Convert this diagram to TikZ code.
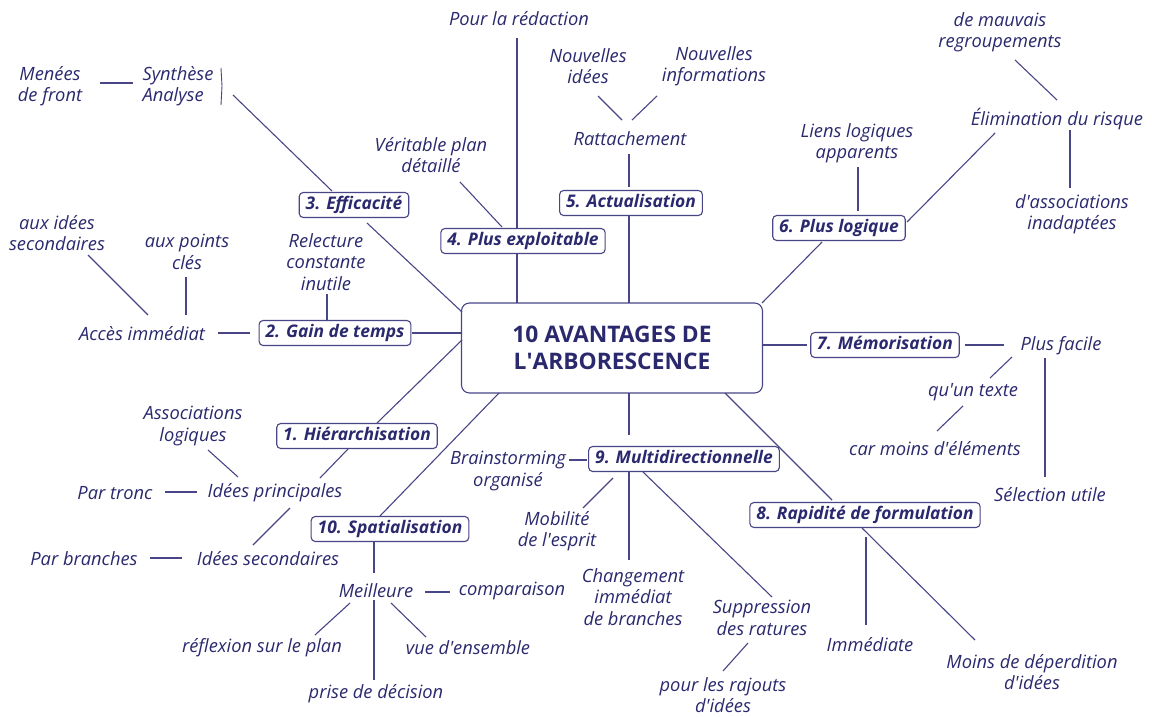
\documentclass[tikz,border=0pt]{standalone}
\usepackage{fontspec}
\setmainfont{Open Sans}
\usetikzlibrary{calc}
\definecolor{ink}{RGB}{43,41,110}
\definecolor{wire}{RGB}{72,70,135}
\newcommand{\apos}{\textquotesingle}
\begin{document}
\begin{tikzpicture}[x=1pt,y=-1pt,
  txt/.style={font=\itshape\fontsize{18.3}{21.5}\selectfont, text=ink, align=center, inner sep=0pt},
  branch/.style={draw=wire, line width=1.1pt, rounded corners=4pt, fill=white, text=ink,
    font=\bfseries\itshape\fontsize{17.4}{20}\selectfont, inner xsep=6.5pt, inner ysep=2pt,
    minimum height=25pt, text height=12.5pt, text depth=3pt},
  hubbox/.style={draw=wire, line width=1.1pt, rounded corners=8pt, fill=white, text=ink,
    font=\bfseries\fontsize{22.8}{27}\selectfont, align=center, minimum width=301pt, minimum height=90pt},
  link/.style={draw=wire, line width=1.1pt}]
\useasboundingbox[fill=white] (0,0) rectangle (1152,717);

% central topic
\node[hubbox] (hub) at (612,348) {10 AVANTAGES DE\\L\apos ARBORESCENCE};

% the ten branches
\node[branch] (b1) at (357,436) {1. Hiérarchisation};
\node[branch] (b2) at (335,333) {2. Gain de temps};
\node[branch] (b3) at (354,205) {3. Efficacité};
\node[branch] (b4) at (523,241) {4. Plus exploitable};
\node[branch] (b5) at (631,203) {5. Actualisation};
\node[branch] (b6) at (839,228) {6. Plus logique};
\node[branch] (b7) at (885,345) {7. Mémorisation};
\node[branch] (b8) at (865,515) {8. Rapidité de formulation};
\node[branch] (b9) at (684,459) {9. Multidirectionnelle};
\node[branch] (b10) at (390,529) {10. Spatialisation};

% leaves
\node[txt] (menees) at (50,86) {Menées\\de front};
\node[txt, align=left] (synth) at (178,86) {Synthèse\\Analyse};
\node[txt] (pour) at (519,19) {Pour la rédaction};
\node[txt] (verit) at (431,155) {Véritable plan\\détaillé};
\node[txt] (nidees) at (588,66) {Nouvelles\\idées};
\node[txt] (ninfo) at (714,66) {Nouvelles\\informations};
\node[txt] (ratt) at (630,139) {Rattachement};
\node[txt] (liens) at (857,143) {Liens logiques\\apparents};
\node[txt] (elim) at (1057,119) {Élimination du risque};
\node[txt] (mauvais) at (1000,32) {de mauvais\\regroupements};
\node[txt] (dassoc) at (1072,214) {d\apos associations\\inadaptées};
\node[txt] (auxid) at (57,233) {aux idées\\secondaires};
\node[txt] (auxpts) at (187,252) {aux points\\clés};
\node[txt] (acces) at (142,334) {Accès immédiat};
\node[txt] (relec) at (326,262) {Relecture\\constante\\inutile};
\node[txt] (assoc) at (193,426) {Associations\\logiques};
\node[txt] (idp) at (275,493) {Idées principales};
\node[txt] (partronc) at (115,493) {Par tronc};
\node[txt] (ids) at (268,559) {Idées secondaires};
\node[txt] (parbr) at (84,559) {Par branches};
\node[txt] (meil) at (376,591) {Meilleure};
\node[txt] (comp) at (512,591) {comparaison};
\node[txt] (reflex) at (262,648) {réflexion sur le plan};
\node[txt] (vue) at (468,648) {vue d\apos ensemble};
\node[txt] (prise) at (376,694) {prise de décision};
\node[txt] (brain) at (508,471) {Brainstorming\\organisé};
\node[txt] (mobil) at (557,531) {Mobilité\\de l\apos esprit};
\node[txt] (chang) at (633,597) {Changement\\immédiat\\de branches};
\node[txt] (suppr) at (762,618) {Suppression\\des ratures};
\node[txt] (rajouts) at (723,695) {pour les rajouts\\d\apos idées};
\node[txt] (immed) at (870,645) {Immédiate};
\node[txt] (moins) at (1032,672) {Moins de déperdition\\d\apos idées};
\node[txt] (plusf) at (1061,346) {Plus facile};
\node[txt] (quun) at (973,392) {qu\apos un texte};
\node[txt] (carm) at (935,449) {car moins d\apos éléments};
\node[txt] (selec) at (1050,495) {Sélection utile};

% connectors
\draw[link] ([shift={(50,-3)}]menees.center) -- ([shift={(-45,-3)}]synth.center);
\draw[wire, line width=0.9pt] ([shift={(43,-18)}]synth.center) -- ([shift={(44,0)}]synth.center) -- ([shift={(43,19)}]synth.center);
\draw[link] ([shift={(55,9)}]synth.center) -- ([shift={(-22,-14)}]b3.center);
\draw[link] ([shift={(13,18)}]b3.center) -- ([shift={(-150,-36)}]hub.center);
\draw[link] ([shift={(-2,19)}]pour.center) -- ([shift={(-6,-13)}]b4.center);
\draw[link] ([shift={(29,27)}]verit.center) -- ([shift={(-21,-14)}]b4.center);
\draw[link] ([shift={(-6,12)}]b4.center) -- ([shift={(-95,-45)}]hub.center);
\draw[link] ([shift={(10,30)}]nidees.center) -- ([shift={(-8,-19)}]ratt.center);
\draw[link] ([shift={(-57,30)}]ninfo.center) -- ([shift={(2,-19)}]ratt.center);
\draw[link] ([shift={(-1,15)}]ratt.center) -- ([shift={(-2,-16)}]b5.center);
\draw[link] ([shift={(-2,12)}]b5.center) -- ([shift={(17,-45)}]hub.center);
\draw[link] ([shift={(1,24)}]liens.center) -- ([shift={(19,-17)}]b6.center);
\draw[link] ([shift={(68,-6)}]b6.center) -- ([shift={(-62,14)}]elim.center);
\draw[link] ([shift={(-17,14)}]b6.center) -- ([shift={(150,-45)}]hub.center);
\draw[link] ([shift={(15,28)}]mauvais.center) -- ([shift={(0,-19)}]elim.center);
\draw[link] ([shift={(13,11)}]elim.center) -- ([shift={(-2,-26)}]dassoc.center);
\draw[link] ([shift={(31,22)}]auxid.center) -- ([shift={(6,-19)}]acces.center);
\draw[link] ([shift={(-1,25)}]auxpts.center) -- ([shift={(44,-19)}]acces.center);
\draw[link] ([shift={(76,-1)}]acces.center) -- ([shift={(-85,0)}]b2.center);
\draw[link] ([shift={(1,32)}]relec.center) -- ([shift={(-8,-12)}]b2.center);
\draw[link] ([shift={(77,0)}]b2.center) -- ([shift={(-150,-15)}]hub.center);
\draw[link] ([shift={(-150,-8)}]hub.center) -- ([shift={(20,-13)}]b1.center);
\draw[link] ([shift={(-113,45)}]hub.center) -- ([shift={(-10,-13)}]b10.center);
\draw[link] ([shift={(15,24)}]assoc.center) -- ([shift={(-37,-16)}]idp.center);
\draw[link] ([shift={(-9,13)}]b1.center) -- ([shift={(45,-15)}]idp.center);
\draw[link] ([shift={(50,-1)}]partronc.center) -- ([shift={(-78,-1)}]idp.center);
\draw[link] ([shift={(15,15)}]idp.center) -- ([shift={(-15,-14)}]ids.center);
\draw[link] ([shift={(66,-1)}]parbr.center) -- ([shift={(-86,-1)}]ids.center);
\draw[link] ([shift={(-16,13)}]b10.center) -- ([shift={(-2,-18)}]meil.center);
\draw[link] ([shift={(49,1)}]meil.center) -- ([shift={(-62,1)}]comp.center);
\draw[link] ([shift={(-26,12)}]meil.center) -- ([shift={(53,-13)}]reflex.center);
\draw[link] ([shift={(-2,9)}]meil.center) -- ([shift={(-2,-14)}]prise.center);
\draw[link] ([shift={(15,12)}]meil.center) -- ([shift={(-42,-11)}]vue.center);
\draw[link] ([shift={(61,-11)}]brain.center) -- ([shift={(-97,1)}]b9.center);
\draw[link] ([shift={(17,45)}]hub.center) -- ([shift={(-55,-24)}]b9.center);
\draw[link] ([shift={(-71,19)}]b9.center) -- ([shift={(26,-23)}]mobil.center);
\draw[link] ([shift={(-55,13)}]b9.center) -- ([shift={(-4,-37)}]chang.center);
\draw[link] ([shift={(-41,13)}]b9.center) -- ([shift={(10,-21)}]suppr.center);
\draw[link] ([shift={(-14,25)}]suppr.center) -- ([shift={(0,-24)}]rajouts.center);
\draw[link] ([shift={(113,45)}]hub.center) -- ([shift={(-33,-15)}]b8.center);
\draw[link] ([shift={(1,22)}]b8.center) -- ([shift={(-4,-20)}]immed.center);
\draw[link] ([shift={(-3,13)}]b8.center) -- ([shift={(-57,-32)}]moins.center);
\draw[link] ([shift={(151,-3)}]hub.center) -- ([shift={(-78,0)}]b7.center);
\draw[link] ([shift={(80,0)}]b7.center) -- ([shift={(-57,-1)}]plusf.center);
\draw[link] ([shift={(-49,11)}]plusf.center) -- ([shift={(17,-14)}]quun.center);
\draw[link] ([shift={(-10,14)}]quun.center) -- ([shift={(2,-18)}]carm.center);
\draw[link] ([shift={(-16,12)}]plusf.center) -- ([shift={(-5,-18)}]selec.center);
\end{tikzpicture}
\end{document}
